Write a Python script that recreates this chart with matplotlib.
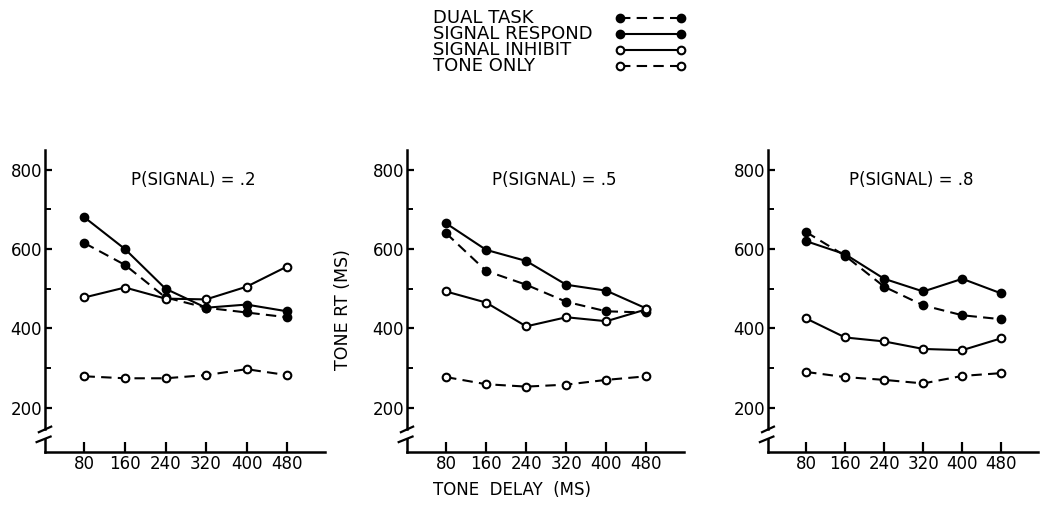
import numpy as np
import matplotlib.pyplot as plt

plt.rcParams['font.family'] = ['DejaVu Sans']

# Data
delays = [80, 160, 240, 320, 400, 480]
prob_labels = ['P(SIGNAL) = .2', 'P(SIGNAL) = .5', 'P(SIGNAL) = .8']
yticks = [200, 400, 600, 800]

dual_task = [[615, 560, 478, 452, 440, 428],
             [640, 545, 510, 467, 443, 440],
             [643, 583, 505, 458, 433, 423]]
signal_respond = [[680, 600, 500, 452, 460, 443],
                  [665, 598, 570, 510, 495, 450],
                  [620, 587, 525, 493, 525, 488]]
signal_inhibit = [[478, 503, 475, 473, 505, 556],
                  [493, 465, 405, 428, 418, 448],
                  [425, 377, 367, 348, 345, 375]]
tone_only = [[279, 274, 274, 282, 297, 282],
             [277, 259, 253, 258, 270, 279],
             [290, 277, 270, 261, 280, 287]]

series = [('DUAL TASK', dual_task, True, '--'),
          ('SIGNAL RESPOND', signal_respond, True, '-'),
          ('SIGNAL INHIBIT', signal_inhibit, False, '-'),
          ('TONE ONLY', tone_only, False, '--')]


def style(filled, ls):
    st = dict(color='black', lw=1.5, ls=ls, marker='o',
              ms=5.5 if filled else 5.5, mew=1.5,
              mfc='black' if filled else 'white', mec='black')
    if ls == '--':
        st['dashes'] = (5, 3)
    return st


fig = plt.figure(figsize=(10.4, 5.11), dpi=100)

W, H = 1040, 511
lefts = [45, 407, 768]
widths = [280, 277, 270]
bottom, top = 452, 150

for i in range(3):
    ax = fig.add_axes([lefts[i] / W, 1 - bottom / H, widths[i] / W, (bottom - top) / H])
    for name, vals, filled, ls in series:
        ax.plot(delays, vals[i], **style(filled, ls))
    ax.set_xlim(2, 555)
    ax.set_ylim(88, 850)
    ax.set_xticks(delays)
    ax.set_yticks(yticks)
    ax.set_yticks([300, 500, 700], minor=True)
    ax.spines['top'].set_visible(False)
    ax.spines['right'].set_visible(False)
    for s in ('left', 'bottom'):
        ax.spines[s].set_linewidth(1.8)
    ax.spines['left'].set_bounds(145, 850)
    ax.tick_params(axis='both', which='major', direction='in', width=1.6, labelsize=12)
    ax.tick_params(axis='y', which='major', length=5, pad=2)
    ax.tick_params(axis='y', which='minor', direction='in', length=4, width=1.4)
    ax.tick_params(axis='x', length=7, pad=2)
    # axis break marks
    tr = ax.get_yaxis_transform()
    ax.plot([-0.022, 0.022], [138, 152], color='black', lw=1.6, transform=tr, clip_on=False)
    ax.plot([-0.03, 0.02], [113, 127], color='black', lw=1.6, transform=tr, clip_on=False)
    ax.plot([0, 0], [88, 122], color='black', lw=1.8, transform=tr, clip_on=False)
    ax.text(0.53, 0.9, prob_labels[i], transform=ax.transAxes,
            ha='center', va='center', fontsize=12)

fig.text(343 / W, 1 - 310 / H, 'TONE RT (MS)', rotation=90,
         ha='center', va='center', fontsize=12.5)
fig.text(512 / W, 1 - 490 / H, 'TONE  DELAY  (MS)', ha='center', va='center', fontsize=12)

# legend drawn by hand: text on the left, sample line on the right
lax = fig.add_axes([0, 0, 1, 1])
lax.set_xlim(0, W)
lax.set_ylim(H, 0)
lax.axis('off')
rows = [18, 34, 50, 66]
for (name, vals, filled, ls), ry in zip(series, rows):
    lax.text(433, ry, name, ha='left', va='center', fontsize=13)
    lax.plot([620, 681], [ry, ry], **style(filled, ls))

fig.savefig('out.png', dpi=100)
